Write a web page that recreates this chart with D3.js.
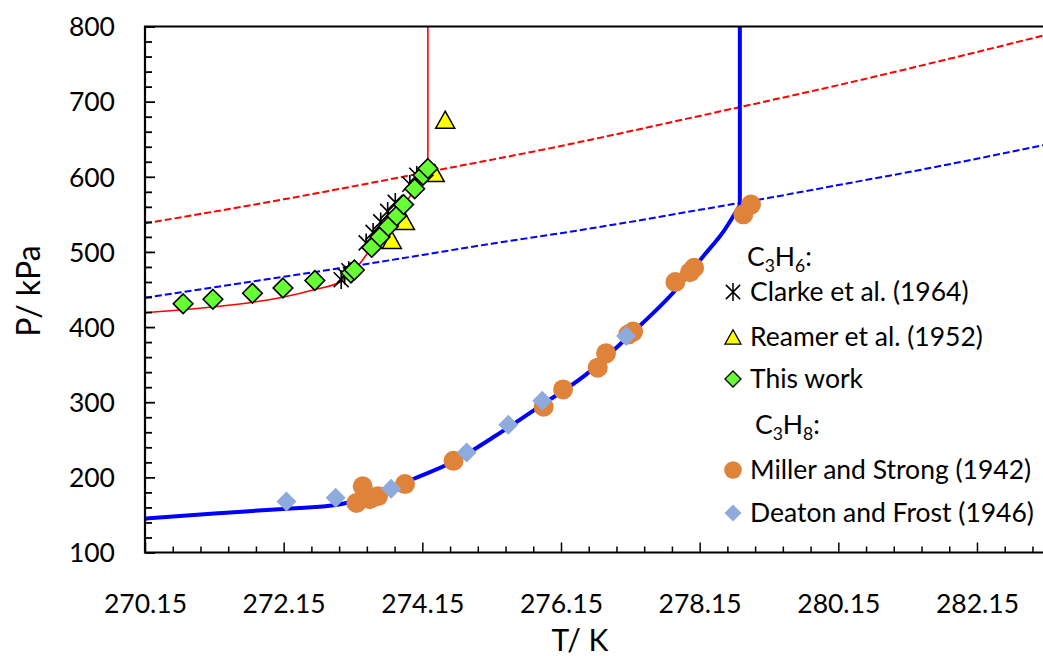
<!DOCTYPE html>
<html>
<head>
<meta charset="utf-8">
<script src="https://cdn.jsdelivr.net/npm/d3@7"></script>
<style>
  html, body { margin: 0; padding: 0; background: #fff; }
  svg { display: block; font-family: Lato, "Open Sans", sans-serif; }
</style>
</head>
<body>
<svg id="chart" width="1043" height="656"></svg>
<script>
// Axis ticks
const xTickValues = [270.15, 272.15, 274.15, 276.15, 278.15, 280.15, 282.15];
const xTickLabels = ["270.15", "272.15", "274.15", "276.15", "278.15", "280.15", "282.15"];
const yTickValues = [100, 200, 300, 400, 500, 600, 700, 800];
const yTickLabels = ["100", "200", "300", "400", "500", "600", "700", "800"];

// C3H6 hydrate equilibrium curve (solid red) and its upper vertical branch
const c3h6CurveT = [270.15, 270.7, 271.15, 271.7, 272.15, 272.6, 272.98, 273.2, 273.42, 273.66, 273.88, 274.04, 274.23];
const c3h6CurveP = [419, 423, 427, 433, 440, 450, 461, 479, 506, 534, 562, 583, 612];
const c3h6VerticalT = 274.23;

// C3H8 hydrate equilibrium curve (thick blue) and its upper vertical branch
const c3h8CurveT = [270.15, 271.15, 272.15, 272.95, 273.3, 273.65, 274.0, 274.6, 275.2, 275.9, 276.5, 277.15, 277.8, 278.2, 278.5, 278.73];
const c3h8CurveP = [145, 152, 158, 164, 172, 183, 197, 221, 255, 298, 336, 390, 449, 494, 528, 562];
const c3h8VerticalT = 278.73;

// Vapour pressure curves (dashed)
const c3h6VapT = [270.15, 272.15, 274.15, 276.15, 278.15, 280.15, 282.15, 283.15];
const c3h6VapP = [538, 570, 605, 641, 681, 722, 766, 789];
const c3h8VapT = [270.15, 271.15, 272.15, 273.15, 274.15, 275.15, 276.15, 277.15, 278.15, 279.15, 280.15, 281.15, 282.15, 283.15];
const c3h8VapP = [439, 453, 467, 481, 496, 511, 525, 540, 556, 572, 589, 606, 624, 643];

// Experimental data, C3H6
const clarkeT = [272.98, 273.03, 273.09, 273.34, 273.44, 273.55, 273.65, 273.76, 273.97, 274.07];
const clarkeP = [463, 469, 475, 512, 526, 540, 554, 566, 590, 602];
const reamerT = [273.71, 273.90, 274.33, 274.48];
const reamerP = [516, 541, 605, 676];
const thisWorkT = [270.70, 271.13, 271.70, 272.14, 272.60, 273.12, 273.17, 273.42, 273.54, 273.66, 273.78, 273.88, 274.04, 274.16, 274.23];
const thisWorkP = [431, 437, 445, 452, 462, 472, 476, 506, 520, 534, 548, 563, 584, 602, 611];

// Experimental data, C3H8
const millerT = [273.20, 273.29, 273.39, 273.51, 273.90, 274.60, 275.90, 276.18, 276.68, 276.80, 277.12, 277.19, 277.80, 278.01, 278.07, 278.78, 278.89];
const millerP = [166, 188, 171, 175, 191, 222, 294, 317, 346, 365, 390, 394, 460, 473, 479, 550, 563];
const deatonT = [272.19, 272.90, 273.70, 274.79, 275.39, 275.88, 277.09];
const deatonP = [168, 173, 185, 233, 270, 302, 388];

const zip = (a, b) => a.map((v, i) => [v, b[i]]);

const svg = d3.select("#chart");
const x = d3.scaleLinear().domain([270.15, 283.15]).range([145, 1046.3]);
const y = d3.scaleLinear().domain([100, 800]).range([552.5, 26.5]);

svg.append("defs").append("clipPath").attr("id", "plot-clip")
  .append("rect")
  .attr("x", x(270.15)).attr("y", y(800))
  .attr("width", x(283.15) - x(270.15)).attr("height", y(100) - y(800));

const plot = svg.append("g").attr("clip-path", "url(#plot-clip)");

const smooth = d3.line().x(d => x(d[0])).y(d => y(d[1])).curve(d3.curveMonotoneX);
const straight = d3.line().x(d => x(d[0])).y(d => y(d[1]));

// Dashed vapour-pressure lines
plot.append("path").attr("d", smooth(zip(c3h6VapT, c3h6VapP)))
  .attr("fill", "none").attr("stroke", "#FF0000").attr("stroke-width", 2).attr("stroke-dasharray", "7,3");
plot.append("path").attr("d", smooth(zip(c3h8VapT, c3h8VapP)))
  .attr("fill", "none").attr("stroke", "#0000FF").attr("stroke-width", 2).attr("stroke-dasharray", "7,3");

// Hydrate equilibrium curves
plot.append("path").attr("d", smooth(zip(c3h8CurveT, c3h8CurveP)))
  .attr("fill", "none").attr("stroke", "#0000FF").attr("stroke-width", 4);
plot.append("path").attr("d", straight([[c3h8VerticalT, c3h8CurveP[c3h8CurveP.length - 1]], [c3h8VerticalT, 800]]))
  .attr("fill", "none").attr("stroke", "#0000FF").attr("stroke-width", 4);
plot.append("path").attr("d", smooth(zip(c3h6CurveT, c3h6CurveP)))
  .attr("fill", "none").attr("stroke", "#FF0000").attr("stroke-width", 1.6);
plot.append("path").attr("d", straight([[c3h6VerticalT, c3h6CurveP[c3h6CurveP.length - 1]], [c3h6VerticalT, 800]]))
  .attr("fill", "none").attr("stroke", "#FF0000").attr("stroke-width", 1.6);

// Marker shapes
const starPath = r => `M${-r},${-r}L${r},${r}M${-r},${r}L${r},${-r}M0,${-r * 1.25}L0,${r * 1.25}`;
const trianglePath = (w, h) => `M0,${-h / 2}L${w / 2},${h / 2}L${-w / 2},${h / 2}Z`;
const diamondPath = r => `M0,${-r}L${r},0L0,${r}L${-r},0Z`;

const markers = {
  clarke: g => g.append("path").attr("d", starPath(7.5)).attr("fill", "none").attr("stroke", "#000").attr("stroke-width", 1.6),
  reamer: g => g.append("path").attr("d", trianglePath(19, 17)).attr("fill", "#FFFF00").attr("stroke", "#000").attr("stroke-width", 1.5),
  thisWork: g => g.append("path").attr("d", diamondPath(9.8)).attr("fill", "#66FF33").attr("stroke", "#000").attr("stroke-width", 1.6),
  miller: g => g.append("circle").attr("r", 10).attr("fill", "#E0833A"),
  deaton: g => g.append("path").attr("d", diamondPath(10)).attr("fill", "#8FAADC")
};

function drawSeries(T, P, kind) {
  plot.append("g").selectAll("g").data(zip(T, P)).join("g")
    .attr("transform", d => `translate(${x(d[0])},${y(d[1])})`)
    .each(function () { markers[kind](d3.select(this)); });
}
drawSeries(millerT, millerP, "miller");
drawSeries(deatonT, deatonP, "deaton");
drawSeries(clarkeT, clarkeP, "clarke");
drawSeries(reamerT, reamerP, "reamer");
drawSeries(thisWorkT, thisWorkP, "thisWork");

// Axes
const xMinor = d3.range(0, 33).map(i => 270.15 + i * 0.4).filter(v => !xTickValues.some(t => Math.abs(t - v) < 1e-6));
const yMinor = d3.range(100, 801, 20).filter(v => v % 100 !== 0);

const xAxisG = svg.append("g").attr("transform", `translate(0,${y(100)})`);
xAxisG.append("g").call(d3.axisBottom(x).tickValues(xMinor).tickSize(-6).tickFormat(""))
  .call(g => g.select(".domain").remove());
xAxisG.append("g").call(d3.axisBottom(x).tickValues(xTickValues).tickSize(-10)
    .tickFormat((d, i) => xTickLabels[i]))
  .call(g => g.select(".domain").remove())
  .call(g => g.selectAll("text").attr("y", 60).attr("dy", null)
    .attr("font-size", 26.5).attr("font-family", "Lato").attr("fill", "#000"));
xAxisG.selectAll("line").attr("stroke", "#000").attr("stroke-width", 1.5);

const yAxisG = svg.append("g").attr("transform", `translate(${x(270.15)},0)`);
yAxisG.append("g").call(d3.axisLeft(y).tickValues(yMinor).tickSize(-7).tickFormat(""))
  .call(g => g.select(".domain").remove());
yAxisG.append("g").call(d3.axisLeft(y).tickValues(yTickValues).tickSize(-10)
    .tickFormat((d, i) => yTickLabels[i]))
  .call(g => g.select(".domain").remove())
  .call(g => g.selectAll("text").attr("x", -30).attr("dy", "0.35em")
    .attr("font-size", 26.5).attr("font-family", "Lato").attr("fill", "#000"));
yAxisG.selectAll("line").attr("stroke", "#000").attr("stroke-width", 1.8);

// Frame lines: left, bottom, top
svg.append("path")
  .attr("d", `M1043,${y(800)}H${x(270.15)}V${y(100)}H1043`)
  .attr("fill", "none").attr("stroke", "#000").attr("stroke-width", 2.2);

// Axis titles
svg.append("text").attr("x", 580).attr("y", 651).attr("text-anchor", "middle")
  .attr("font-size", 30).text("T/ K");
svg.append("text").attr("transform", "translate(40,291) rotate(-90)").attr("text-anchor", "middle")
  .attr("font-size", 32).text("P/ kPa");

// Legend
const legend = svg.append("g").attr("font-size", 26.5).attr("fill", "#000");
function formula(xPos, yPos, sub) {
  const t = legend.append("text").attr("x", xPos).attr("y", yPos).attr("dy", "0.35em");
  t.append("tspan").text("C");
  t.append("tspan").attr("font-size", 17.5).attr("dy", 6).text("3");
  t.append("tspan").attr("dy", -6).text("H");
  t.append("tspan").attr("font-size", 17.5).attr("dy", 6).text(sub);
  t.append("tspan").attr("dy", -6).text(":");
}
formula(747, 257, "6");
formula(755, 425, "8");

const legendItems = [
  { kind: "clarke", label: "Clarke et al. (1964)", y: 292, scale: 0.95 },
  { kind: "reamer", label: "Reamer et al. (1952)", y: 337, scale: 0.85 },
  { kind: "thisWork", label: "This work", y: 379, scale: 0.82 },
  { kind: "miller", label: "Miller and Strong (1942)", y: 470, scale: 0.88 },
  { kind: "deaton", label: "Deaton and Frost (1946)", y: 513, scale: 0.85 }
];
legendItems.forEach(item => {
  const g = legend.append("g").attr("transform", `translate(733,${item.y}) scale(${item.scale})`);
  markers[item.kind](g);
  legend.append("text").attr("x", 750).attr("y", item.y).attr("dy", "0.35em").text(item.label);
});
</script>
</body>
</html>
